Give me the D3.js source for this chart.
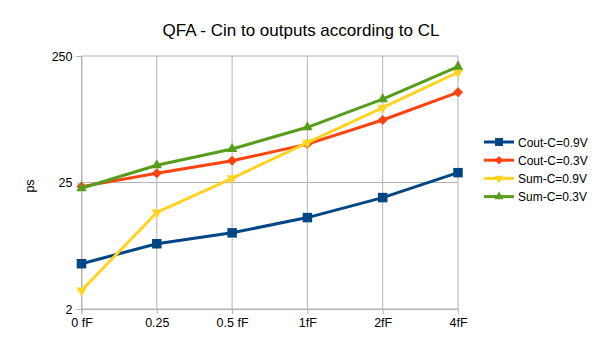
<!DOCTYPE html>
<html>
<head>
<meta charset="utf-8">
<script src="https://cdn.jsdelivr.net/npm/d3@7"></script>
<style>
  body { margin: 0; background: #fff; }
  text { font-family: "Liberation Sans", Arial, sans-serif; fill: #000; }
</style>
</head>
<body>
<div id="chart"></div>
<script>
// Chart data
var categories = ["0 fF", "0.25", "0.5 fF", "1fF", "2fF", "4fF"];
var seriesNames = ["Cout-C=0.9V", "Cout-C=0.3V", "Sum-C=0.9V", "Sum-C=0.3V"];
var coutHigh = [5.7, 8.2, 10.0, 13.2, 19.0, 29.9];
var coutLow = [23.2, 29.6, 37.1, 50.3, 78, 129];
var sumHigh = [3.5, 14.5, 27.0, 51.6, 97.5, 186];
var sumLow = [22.5, 34.2, 46, 68.3, 114, 206];
var yTickValues = [2.5, 25, 250];
var yTickLabels = ["2", "25", "250"];

var colors = ["#004586", "#ff420e", "#ffd320", "#579d1c"];
var symbols = [d3.symbolSquare, d3.symbolSquare, d3.symbolTriangle, d3.symbolTriangle];
var sizes = [90, 50, 48, 48];
var rotations = [0, 45, 180, 0];
var allSeries = [coutHigh, coutLow, sumHigh, sumLow];

// SVG area
var svgWidth = 605;
var svgHeight = 340;
var chartMargin = { top: 56, right: 147, bottom: 31, left: 81.5 };
var width = svgWidth - chartMargin.left - chartMargin.right;
var height = svgHeight - chartMargin.top - chartMargin.bottom;

var svg = d3.select("#chart")
  .append("svg")
  .attr("width", svgWidth)
  .attr("height", svgHeight);

var chartGroup = svg.append("g")
  .attr("transform", `translate(${chartMargin.left}, ${chartMargin.top})`);

// Scales
var x = d3.scalePoint()
  .domain(categories)
  .range([0, width]);

var y = d3.scaleLog()
  .domain([2.5, 250])
  .range([height, 0]);

// Gridlines
chartGroup.selectAll(".hgrid")
  .data(yTickValues)
  .enter()
  .append("line")
  .attr("x1", 0)
  .attr("x2", width)
  .attr("y1", d => y(d))
  .attr("y2", d => y(d))
  .attr("stroke", "#b3b3b3");

chartGroup.selectAll(".vgrid")
  .data(categories)
  .enter()
  .append("line")
  .attr("x1", d => x(d))
  .attr("x2", d => x(d))
  .attr("y1", 0)
  .attr("y2", height)
  .attr("stroke", "#b3b3b3");

// Axes
var axisLeft = d3.axisLeft(y)
  .tickValues(yTickValues)
  .tickFormat((d, i) => yTickLabels[i])
  .tickSize(5)
  .tickPadding(4);

var yAxis = chartGroup.append("g").call(axisLeft);

var axisBottom = d3.axisBottom(x)
  .tickSize(5)
  .tickPadding(4);

var xAxis = chartGroup.append("g")
  .attr("transform", `translate(0, ${height})`)
  .call(axisBottom);

[yAxis, xAxis].forEach(function (ax) {
  ax.select(".domain").attr("stroke", "#b3b3b3");
  ax.selectAll(".tick line").attr("stroke", "#b3b3b3");
  ax.selectAll(".tick text")
    .attr("font-size", "12.5px")
    .attr("fill", "#000")
    .attr("font-family", "Liberation Sans, Arial, sans-serif");
});

// Lines and markers
var line = d3.line()
  .x((d, i) => x(categories[i]))
  .y(d => y(d));

allSeries.forEach(function (values, s) {
  chartGroup.append("path")
    .datum(values)
    .attr("d", line)
    .attr("fill", "none")
    .attr("stroke", colors[s])
    .attr("stroke-width", 3)
    .attr("stroke-linejoin", "round");

  chartGroup.selectAll(".m" + s)
    .data(values)
    .enter()
    .append("path")
    .attr("d", d3.symbol().type(symbols[s]).size(sizes[s]))
    .attr("transform", (d, i) => `translate(${x(categories[i])}, ${y(d)}) rotate(${rotations[s]})`)
    .attr("fill", colors[s]);
});

// Title
svg.append("text")
  .attr("x", 301)
  .attr("y", 36)
  .attr("text-anchor", "middle")
  .attr("font-size", "17px")
  .text("QFA - Cin to outputs according to CL");

// Y axis label
svg.append("text")
  .attr("transform", "translate(34, 186) rotate(-90)")
  .attr("text-anchor", "middle")
  .attr("font-size", "12.5px")
  .text("ps");

// Legend
var legend = svg.append("g")
  .attr("transform", "translate(484, 142)");

seriesNames.forEach(function (name, s) {
  var row = legend.append("g")
    .attr("transform", `translate(0, ${s * 18.2})`);
  row.append("line")
    .attr("x1", 0)
    .attr("x2", 30)
    .attr("stroke", colors[s])
    .attr("stroke-width", 3);
  row.append("path")
    .attr("d", d3.symbol().type(symbols[s]).size(sizes[s] * 0.7))
    .attr("transform", `translate(15, 0) rotate(${rotations[s]})`)
    .attr("fill", colors[s]);
  row.append("text")
    .attr("x", 34)
    .attr("y", 4.5)
    .attr("font-size", "12px")
    .text(name);
});
</script>
</body>
</html>
